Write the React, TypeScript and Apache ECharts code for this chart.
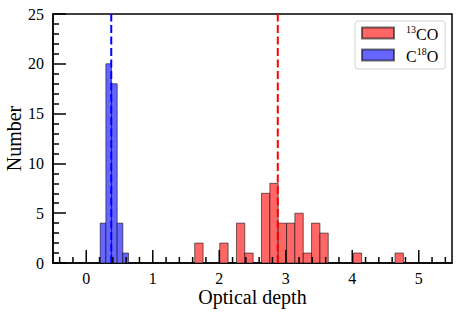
import React, { useEffect, useRef } from "react";
import * as echarts from "echarts";

// 13CO histogram (bin lower edge, upper edge, count)
const redBinLo = [1.631, 2.008, 2.259, 2.384, 2.635, 2.761, 2.886, 3.012, 3.137, 3.263, 3.388, 3.514, 4.016, 4.643];
const redBinHi = [1.757, 2.133, 2.384, 2.51, 2.761, 2.886, 3.012, 3.137, 3.263, 3.388, 3.514, 3.639, 4.141, 4.769];
const redCounts = [2, 2, 4, 1, 7, 8, 4, 4, 5, 1, 4, 3, 1, 1];
// C18O histogram
const blueBinLo = [0.21, 0.295, 0.38, 0.465, 0.55];
const blueBinHi = [0.295, 0.38, 0.465, 0.55, 0.635];
const blueCounts = [4, 20, 18, 4, 1];
// dashed reference lines
const redLineX = 2.88;
const blueLineX = 0.376;
// x axis ticks
const xMajorTicks = [0, 1, 2, 3, 4, 5];
const xMinorTicks = [
  -0.4, -0.2, 0.2, 0.4, 0.6, 0.8, 1.2, 1.4, 1.6, 1.8, 2.2, 2.4, 2.6, 2.8,
  3.2, 3.4, 3.6, 3.8, 4.2, 4.4, 4.6, 4.8, 5.2, 5.4,
];

const FONT = '"Liberation Serif", "DejaVu Serif", serif';

export default function App() {
  const ref = useRef<HTMLDivElement>(null);
  useEffect(() => {
    if (!ref.current) return;
    const chart = echarts.init(ref.current, null, { renderer: "svg" });

    const barRender = (fill: string) => (params: any, api: any) => {
      const p0 = api.coord([api.value(0), api.value(2)]);
      const p1 = api.coord([api.value(1), 0]);
      return {
        type: "rect",
        shape: { x: p0[0], y: p0[1], width: p1[0] - p0[0], height: p1[1] - p0[1] },
        style: { fill, stroke: "rgba(0,0,0,0.55)", lineWidth: 1 },
      };
    };

    const tickData = [
      ...xMajorTicks.map((v) => [v, 1]),
      ...xMinorTicks.map((v) => [v, 0]),
    ];

    chart.setOption({
      animation: false,
      backgroundColor: "#fff",
      textStyle: { fontFamily: FONT },
      grid: {
        left: 53,
        right: 19,
        top: 14,
        bottom: 52,
        containLabel: false,
        outerBoundsMode: "none",
        show: true,
        borderColor: "#000",
        borderWidth: 1.5,
        backgroundColor: "transparent",
      },
      xAxis: {
        type: "value",
        min: -0.5,
        max: 5.5,
        name: "Optical depth",
        nameLocation: "middle",
        nameGap: 24,
        nameMoveOverlap: false,
        nameTextStyle: { fontSize: 20, color: "#000", fontFamily: FONT },
        axisLine: { show: true, onZero: false, lineStyle: { color: "#000", width: 1.5 } },
        axisTick: { show: false },
        axisLabel: { show: false },
        splitLine: { show: false },
      },
      yAxis: {
        type: "value",
        min: 0,
        max: 25,
        interval: 5,
        name: "Number",
        nameLocation: "middle",
        nameGap: 29,
        nameMoveOverlap: false,
        nameTextStyle: { fontSize: 20, color: "#000", fontFamily: FONT },
        axisLine: { show: true, onZero: false, lineStyle: { color: "#000", width: 1.5 } },
        axisTick: { show: true, inside: true, length: 13, lineStyle: { color: "#000", width: 1.5 } },
        minorTick: { show: true, splitNumber: 5, length: 6, lineStyle: { color: "#000", width: 1.5 } },
        axisLabel: { fontSize: 16, color: "#000", margin: 9, fontFamily: FONT },
        splitLine: { show: false },
      },
      legend: {
        data: ["13CO", "C18O"],
        orient: "vertical",
        left: 355,
        top: 21,
        itemWidth: 32,
        itemHeight: 11,
        itemGap: 4,
        icon: "rect",
        padding: [3, 7, 5, 6],
        borderColor: "#d4d4d4",
        borderWidth: 1,
        borderRadius: 3,
        backgroundColor: "#fff",
        formatter: (name: string) =>
          name === "13CO" ? "{g|}{sup|13}{n|CO}" : "{g|}{n|C}{sup|18}{n|O}",
        textStyle: {
          fontFamily: FONT,
          color: "#000",
          rich: {
            g: { width: 7 },
            n: { fontSize: 16, lineHeight: 18, fontFamily: FONT, verticalAlign: "bottom" },
            sup: { fontSize: 10, lineHeight: 10, fontFamily: FONT, verticalAlign: "top" },
          },
        },
      },
      series: [
        {
          name: "13CO",
          type: "custom",
          itemStyle: { color: "#ff6666", borderColor: "rgba(0,0,0,0.55)", borderWidth: 1 },
          encode: { x: [0, 1], y: 2 },
          data: redCounts.map((c, i) => [redBinLo[i], redBinHi[i], c]),
          renderItem: barRender("#ff6666"),
          z: 2,
        },
        {
          name: "C18O",
          type: "custom",
          itemStyle: { color: "#6666ff", borderColor: "rgba(0,0,0,0.55)", borderWidth: 1 },
          encode: { x: [0, 1], y: 2 },
          data: blueCounts.map((c, i) => [blueBinLo[i], blueBinHi[i], c]),
          renderItem: barRender("#6666ff"),
          z: 2,
        },
        {
          name: "redLine",
          type: "line",
          showSymbol: false,
          silent: true,
          data: [[redLineX, 0], [redLineX, 25]],
          lineStyle: { color: "#ff0000", width: 2, type: [8, 3.5] },
          z: 3,
        },
        {
          name: "blueLine",
          type: "line",
          showSymbol: false,
          silent: true,
          data: [[blueLineX, 0], [blueLineX, 25]],
          lineStyle: { color: "#0000ff", width: 2, type: [8, 3.5] },
          z: 3,
        },
        {
          name: "xticks",
          type: "custom",
          silent: true,
          clip: false,
          z: 4,
          data: tickData,
          renderItem: (params: any, api: any) => {
            const v = api.value(0);
            const major = api.value(1) === 1;
            const p = api.coord([v, 0]);
            const len = major ? 13 : 6;
            const children: any[] = [
              {
                type: "line",
                shape: { x1: p[0], y1: p[1], x2: p[0], y2: p[1] - len },
                style: { stroke: "#000", lineWidth: 1.5 },
              },
            ];
            if (major) {
              children.push({
                type: "text",
                x: p[0],
                y: p[1] + 7,
                style: {
                  text: String(v),
                  fill: "#000",
                  fontSize: 16,
                  fontFamily: FONT,
                  align: "center",
                  verticalAlign: "top",
                },
              });
            }
            return { type: "group", children };
          },
        },
      ],
    });
    return () => chart.dispose();
  }, []);
  return (
    <div
      ref={ref}
      style={{ position: "fixed", left: 0, top: 0, width: 471, height: 315 }}
    />
  );
}
